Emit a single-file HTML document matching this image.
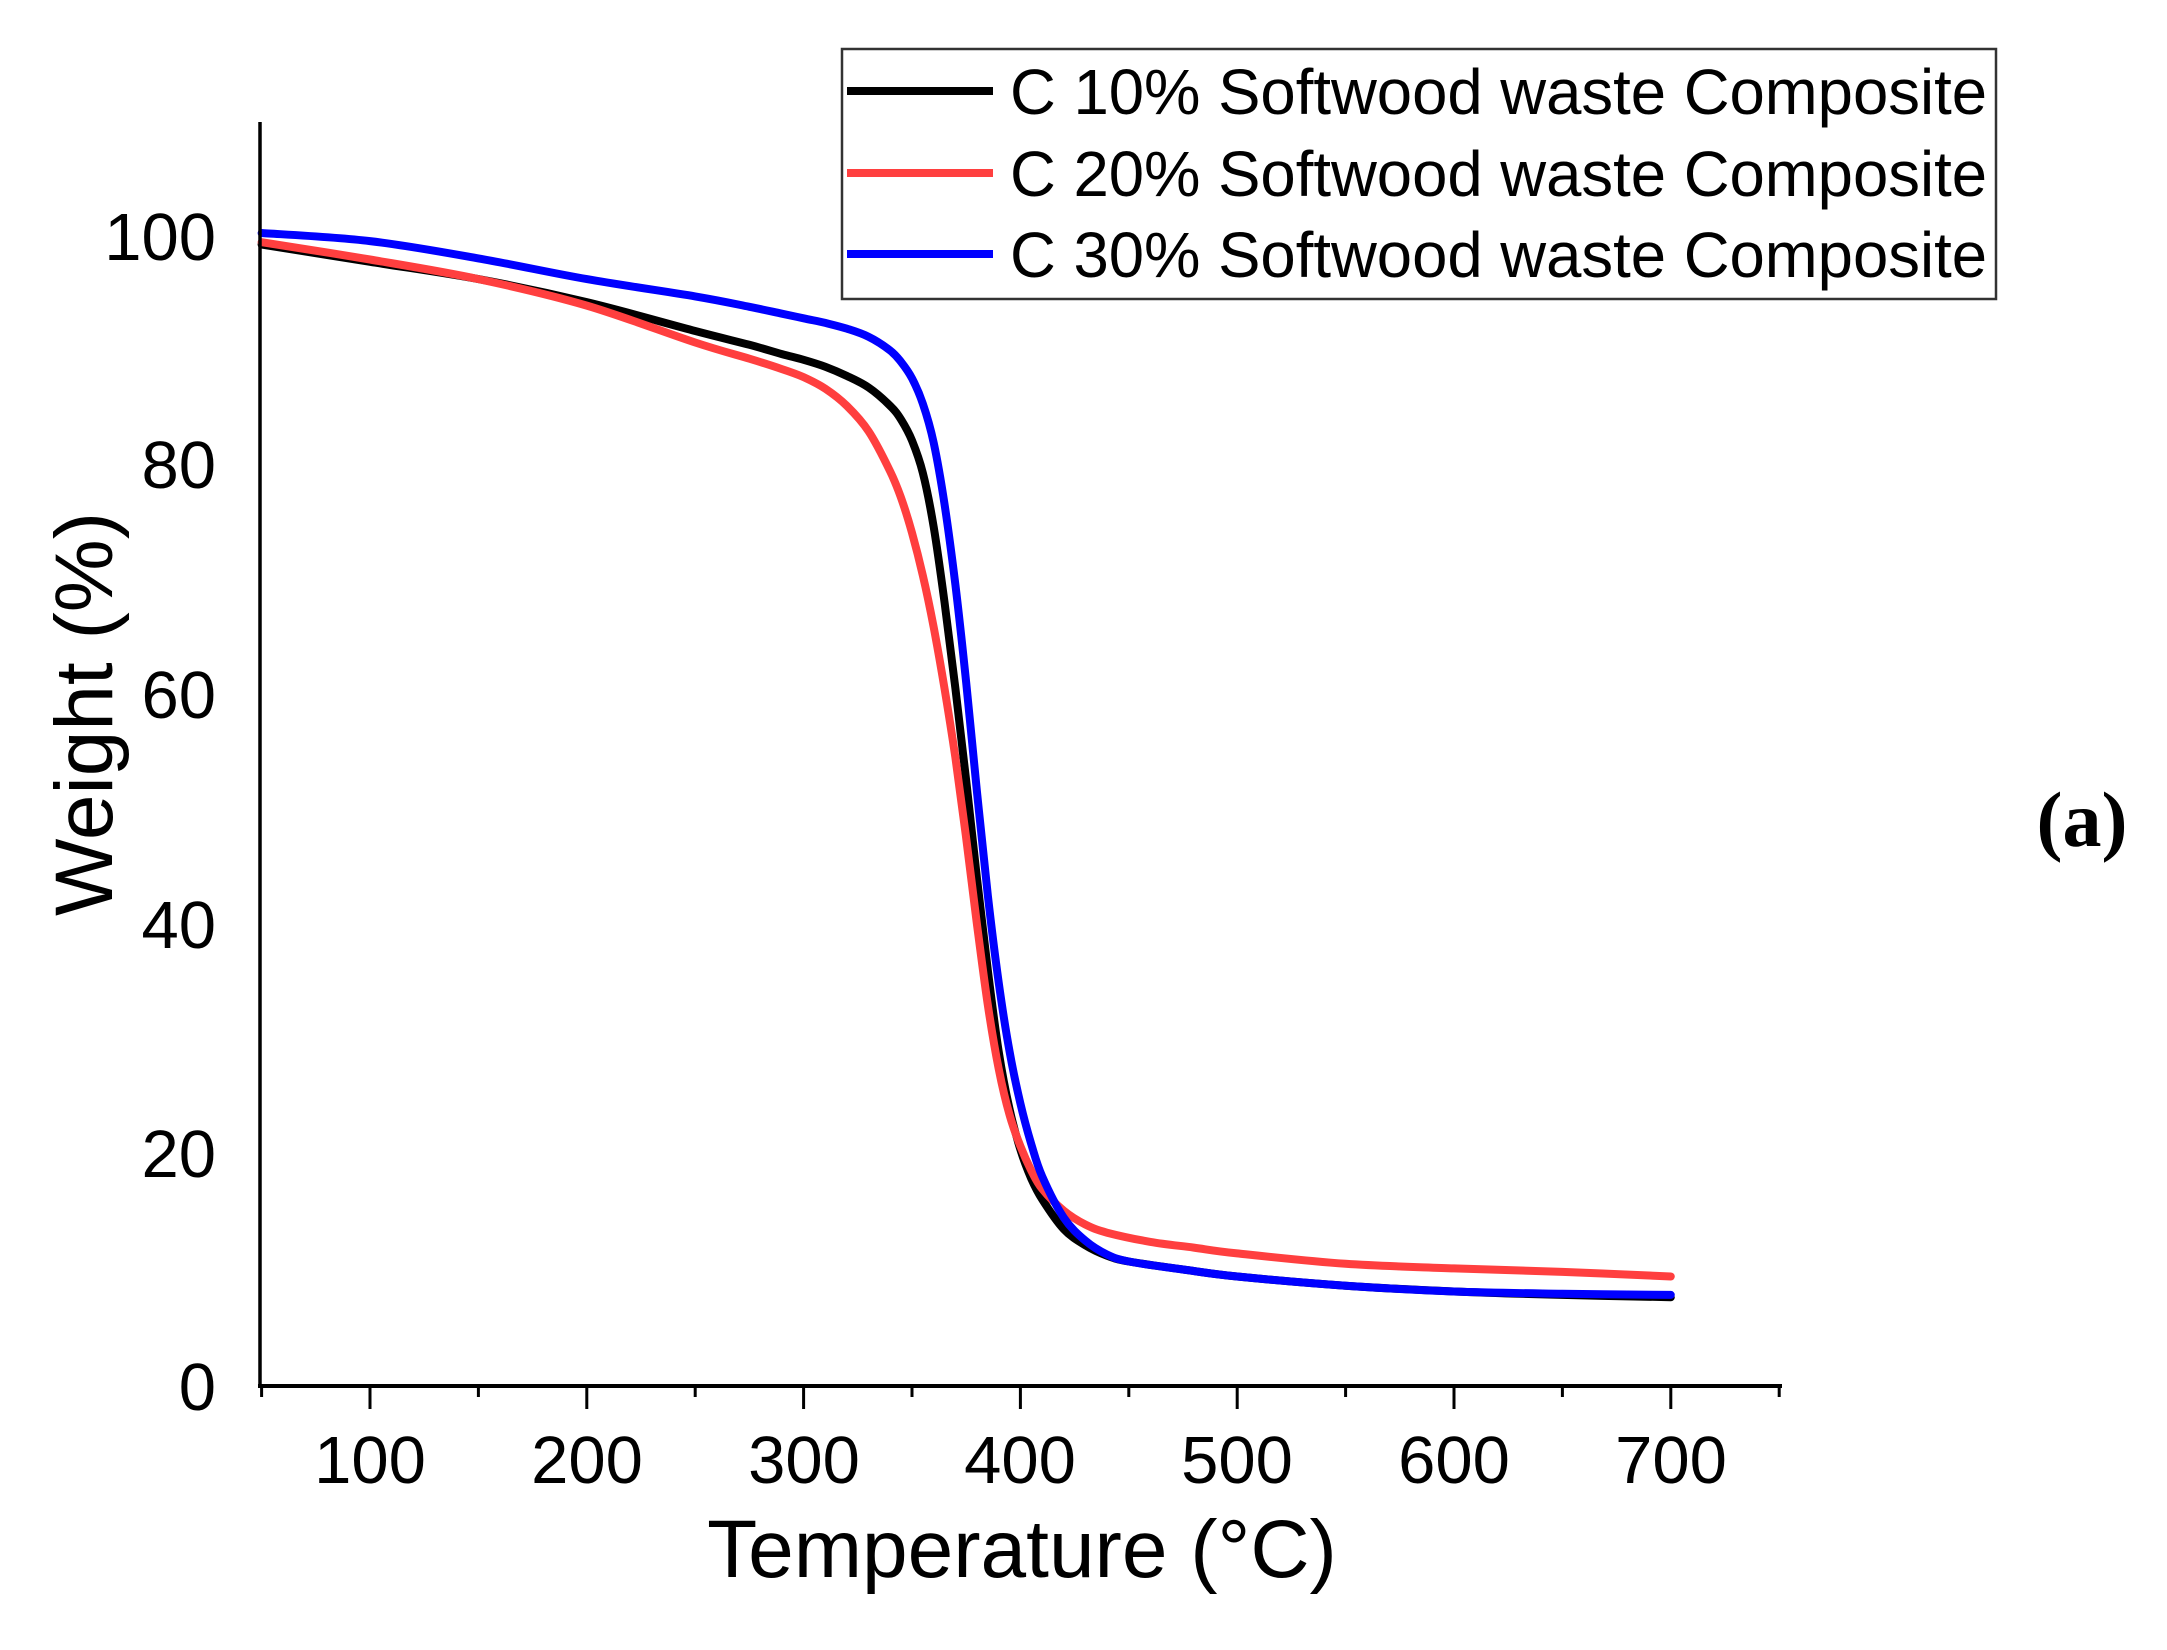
<!DOCTYPE html>
<html><head><meta charset="utf-8"><style>
html,body{margin:0;padding:0;background:#fff;}
svg{display:block;}
text{font-family:"Liberation Sans",Arial,sans-serif;fill:#000;}
</style></head><body>
<svg id="s" width="2167" height="1650" viewBox="0 0 2167 1650" xmlns="http://www.w3.org/2000/svg">
<rect width="2167" height="1650" fill="#fff"/>
<g id="curves" fill="none" stroke-width="8" stroke-linejoin="round" stroke-linecap="round"></g>
<line x1="260" y1="122" x2="260" y2="1388" stroke="#000" stroke-width="3.5"/>
<line x1="258" y1="1386" x2="1782" y2="1386" stroke="#000" stroke-width="4"/>
<g id="ticks" stroke="#000" stroke-width="3"></g>
<g font-size="67" text-anchor="middle">
<text x="370" y="1483">100</text><text x="587" y="1483">200</text><text x="804" y="1483">300</text>
<text x="1020" y="1483">400</text><text x="1237" y="1483">500</text><text x="1454" y="1483">600</text>
<text x="1671" y="1483">700</text>
</g>
<g font-size="67" text-anchor="end">
<text x="216" y="1410">0</text><text x="216" y="1177">20</text><text x="216" y="948">40</text>
<text x="216" y="718">60</text><text x="216" y="488">80</text><text x="216" y="260">100</text>
</g>
<text x="1022" y="1577" font-size="82" text-anchor="middle">Temperature (°C)</text>
<text transform="translate(112,714) rotate(-90)" font-size="82" text-anchor="middle">Weight (%)</text>
<rect x="842" y="49" width="1154" height="250" fill="#fff" stroke="#333" stroke-width="2.5"/>
<line x1="847" y1="91" x2="993" y2="91" stroke="#000" stroke-width="8"/>
<line x1="847" y1="173" x2="993" y2="173" stroke="#ff3f3f" stroke-width="8"/>
<line x1="847" y1="254" x2="993" y2="254" stroke="#0000ff" stroke-width="8"/>
<g font-size="64">
<text x="1010" y="114" textLength="977" lengthAdjust="spacingAndGlyphs">C 10% Softwood waste Composite</text>
<text x="1010" y="196" textLength="977" lengthAdjust="spacingAndGlyphs">C 20% Softwood waste Composite</text>
<text x="1010" y="277" textLength="977" lengthAdjust="spacingAndGlyphs">C 30% Softwood waste Composite</text>
</g>
<text x="2082" y="846" font-size="78" font-weight="bold" text-anchor="middle" style="font-family:'Liberation Serif',serif">(a)</text>
</svg>
<script>
var X=function(t){return 370+(t-100)*2.168;},Y=function(v){return 1386-11.53*v;};
var tk=document.getElementById('ticks'),h='';
for(var t=50;t<=750;t+=50){var major=(t%100===0);h+='<line x1="'+X(t)+'" y1="1386" x2="'+X(t)+'" y2="'+(1386+(major?23:11))+'"/>';}
tk.innerHTML=h;
var data={
"#000000":[[50,99],[100,97.5],[150,96],[200,94],[250,91.5],[275,90.3],[290,89.5],[300,89],[310,88.4],[320,87.6],[330,86.6],[340,85],[345,83.8],[350,82],[355,79.2],[360,74.5],[365,68],[370,60.5],[375,52.5],[380,44],[385,36],[390,29],[395,24],[400,20.5],[405,18],[410,16.2],[420,13.6],[430,12.2],[440,11.3],[450,10.8],[475,10.1],[500,9.5],[550,8.7],[600,8.2],[650,7.9],[700,7.7]],
"#ff3f3f":[[50,99.2],[100,97.7],[150,96],[200,93.7],[250,90.5],[275,89.1],[290,88.2],[300,87.5],[310,86.5],[320,85],[330,82.8],[340,79.3],[345,77],[350,74],[355,70.3],[360,65.8],[365,60.5],[370,54.5],[375,47.5],[380,40],[385,33],[390,27.5],[395,23.5],[400,20.8],[405,18.7],[410,17.1],[420,15.2],[430,14],[440,13.3],[460,12.5],[480,12],[500,11.5],[550,10.6],[600,10.2],[650,9.9],[700,9.5]],
"#0000ff":[[50,100],[100,99.3],[150,97.8],[200,96],[250,94.5],[275,93.6],[290,93],[300,92.6],[310,92.2],[320,91.7],[330,91],[340,89.8],[345,88.8],[350,87.4],[355,85.2],[360,81.8],[365,76.5],[370,69.5],[375,61],[380,51.5],[385,42.5],[390,35],[395,29],[400,24.5],[405,21],[410,18.2],[420,14.6],[430,12.6],[440,11.4],[450,10.8],[475,10.1],[500,9.5],[550,8.7],[600,8.2],[650,8],[700,7.9]]};
var g=document.getElementById('curves'),out='';
for(var c in data){var p=data[c].map(function(d){return [X(d[0]),Y(d[1])];});
var s='M'+p[0][0].toFixed(1)+','+p[0][1].toFixed(1);
for(var i=0;i<p.length-1;i++){var p0=p[i-1]||p[i],p1=p[i],p2=p[i+1],p3=p[i+2]||p2;
s+=' C'+(p1[0]+(p2[0]-p0[0])/6).toFixed(1)+','+(p1[1]+(p2[1]-p0[1])/6).toFixed(1)+' '+(p2[0]-(p3[0]-p1[0])/6).toFixed(1)+','+(p2[1]-(p3[1]-p1[1])/6).toFixed(1)+' '+p2[0].toFixed(1)+','+p2[1].toFixed(1);}
out+='<path d="'+s+'" stroke="'+c+'"/>';}
g.innerHTML=out;
</script>
</body></html>
